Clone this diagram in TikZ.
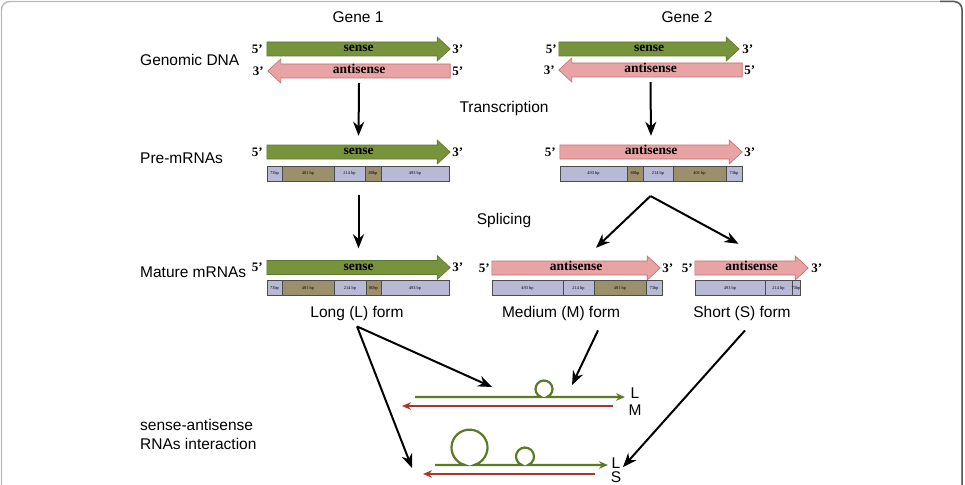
\documentclass[tikz,border=0pt]{standalone}
\usepackage{fontspec}
\setmainfont{Liberation Serif}
\setsansfont{Liberation Sans}
\usetikzlibrary{arrows.meta,backgrounds}
\pgfdeclarelayer{bottom}
\pgfsetlayers{bottom,background,main}
\definecolor{sgreen}{HTML}{77933C}
\definecolor{sgreenD}{HTML}{5E7830}
\definecolor{apink}{HTML}{E8A4A4}
\definecolor{apinkD}{HTML}{C46C6C}
\definecolor{lav}{HTML}{B8B9D4}
\definecolor{khaki}{HTML}{9C8F6C}
\definecolor{dgreen}{HTML}{5B7A25}
\definecolor{dred}{HTML}{A8382E}
\tikzset{
  lbl/.style={font=\sffamily\fontsize{15.5}{18}\selectfont, inner sep=0},
  lbll/.style={lbl, anchor=west},
  endlbl/.style={font=\bfseries\fontsize{13}{15}\selectfont, inner sep=0},
  band/.style={minimum height=24, inner sep=0, font=\bfseries\fontsize{13.5}{15}\selectfont, text height=7.5, text depth=2.5},
  seg/.style={draw=gray!60!black, line width=0.4, minimum height=15, inner sep=0, font=\fontsize{4.4}{5}\selectfont, fill=lav},
  kseg/.style={seg, fill=khaki, draw=black!70},
  arr/.style={-{Stealth[length=14,width=11]}, line width=2, black},
  duplex/.style={line width=2.2, -{Stealth[length=9,width=7.5]}},
}
% right-pointing block arrow behind node #1
\newcommand\RArrow[3]{\begin{scope}[on background layer]
\path[fill=#2,draw=#3,line width=0.6] ([yshift=7]#1.west) -- ([xshift=-13,yshift=7]#1.east) -- ([xshift=-13,yshift=12]#1.east) -- (#1.east) -- ([xshift=-13,yshift=-12]#1.east) -- ([xshift=-13,yshift=-7]#1.east) -- ([yshift=-7]#1.west) -- cycle;
\end{scope}}
% left-pointing block arrow behind node #1
\newcommand\LArrow[3]{\begin{scope}[on background layer]
\path[fill=#2,draw=#3,line width=0.6] ([yshift=7]#1.east) -- ([xshift=13,yshift=7]#1.west) -- ([xshift=13,yshift=12]#1.west) -- (#1.west) -- ([xshift=13,yshift=-12]#1.west) -- ([xshift=13,yshift=-7]#1.west) -- ([yshift=-7]#1.east) -- cycle;
\end{scope}}
% segment: name, x1, x2, y, style, text
\newcommand\seg[6]{\node[#5, minimum width={(#3-#2)*1pt}] (#1) at ({(#2+#3)/2},#4) {\makebox[0pt]{#6}};}
\begin{document}
\begin{tikzpicture}[x=1pt,y=-1pt]
\useasboundingbox (0,0) rectangle (965,484);
\begin{pgfonlayer}{bottom}
\fill[white] (0,0) rectangle (965,484);
\end{pgfonlayer}
% frame
\draw[gray!55, line width=1.4, rounded corners=8] (1.5,490) -- (1.5,1.5) -- (962,1.5) -- (962,490);
\draw[black!65, line width=1.5, rounded corners=8] (940,1.5) -- (962,1.5) -- (962,490);

% headings and row labels
\node[lbl] (gene1) at (358,17) {Gene 1};
\node[lbl] (gene2) at (687,17) {Gene 2};
\node[lbll] (gdna) at (140,60) {Genomic DNA};
\node[lbl] (trans) at (504,108) {Transcription};
\node[lbll] (pre) at (140,158) {Pre-mRNAs};
\node[lbl] (splic) at (504,220) {Splicing};
\node[lbll] (mat) at (140,272) {Mature mRNAs};
\node[lbll, align=left] (inter) at (140,434) {sense-antisense\\[1pt]RNAs interaction};

% ---- Genomic DNA
\node[band, minimum width=183] (g1s) at (358.5,49) {sense};
\RArrow{g1s}{sgreen}{sgreenD}
\node[band, minimum width=182] (g1a) at (359,71) {antisense};
\LArrow{g1a}{apink}{apinkD}
\node[band, minimum width=180] (g2s) at (649,49) {sense};
\RArrow{g2s}{sgreen}{sgreenD}
\node[band, minimum width=183] (g2a) at (650.5,70) {antisense};
\LArrow{g2a}{apink}{apinkD}
\node[endlbl, anchor=east] (g1s5) at ([xshift=-4]g1s.west) {5’};
\node[endlbl, anchor=west] (g1s3) at ([xshift=2]g1s.east) {3’};
\node[endlbl, anchor=east] (g1a3) at ([xshift=-4]g1a.west) {3’};
\node[endlbl, anchor=west] (g1a5) at ([xshift=2]g1a.east) {5’};
\node[endlbl, anchor=east] (g2s5) at ([xshift=-2]g2s.west) {5’};
\node[endlbl, anchor=west] (g2s3) at ([xshift=3]g2s.east) {3’};
\node[endlbl, anchor=east] (g2a3) at ([xshift=-4]g2a.west) {3’};
\node[endlbl, anchor=west] (g2a5) at ([xshift=2]g2a.east) {5’};

% ---- Pre-mRNAs
\node[band, minimum width=183] (p1) at (358.5,152) {sense};
\RArrow{p1}{sgreen}{sgreenD}
\node[endlbl, anchor=east] (p15) at ([xshift=-4]p1.west) {5’};
\node[endlbl, anchor=west] (p13) at ([xshift=2]p1.east) {3’};
\node[band, minimum width=182] (p2) at (651,152) {antisense};
\RArrow{p2}{apink}{apinkD}
\node[endlbl, anchor=east] (p25) at ([xshift=-4]p2.west) {5’};
\node[endlbl, anchor=west] (p23) at ([xshift=2]p2.east) {3’};
\seg{b1a}{267}{282}{173.5}{seg}{73bp}
\seg{b1b}{282}{334}{173.5}{kseg}{401 bp}
\seg{b1c}{334}{365}{173.5}{seg}{214 bp}
\seg{b1d}{365}{381}{173.5}{kseg}{80bp}
\seg{b1e}{381}{449}{173.5}{seg}{493 bp}
\seg{b2a}{560}{627}{173.5}{seg}{493 bp}
\seg{b2b}{627}{643}{173.5}{kseg}{80bp}
\seg{b2c}{643}{673}{173.5}{seg}{214 bp}
\seg{b2d}{673}{726}{173.5}{kseg}{401 bp}
\seg{b2e}{726}{742}{173.5}{seg}{73bp}

% ---- Mature mRNAs
\node[band, minimum width=183] (m1) at (358.5,267.5) {sense};
\RArrow{m1}{sgreen}{sgreenD}
\node[endlbl, anchor=east] (m15) at ([xshift=-4]m1.west) {5’};
\node[endlbl, anchor=west] (m13) at ([xshift=2]m1.east) {3’};
\node[band, minimum width=168] (mm) at (576,268) {antisense};
\RArrow{mm}{apink}{apinkD}
\node[endlbl, anchor=east] (mm5) at ([xshift=-2]mm.west) {5’};
\node[endlbl, anchor=west] (mm3) at ([xshift=2]mm.east) {3’};
\node[band, minimum width=113] (ms) at (751.5,268) {antisense};
\RArrow{ms}{apink}{apinkD}
\node[endlbl, anchor=east] (ms5) at ([xshift=-2]ms.west) {5’};
\node[endlbl, anchor=west] (ms3) at ([xshift=3]ms.east) {3’};
\seg{c1a}{267}{282}{288}{seg}{73bp}
\seg{c1b}{282}{334}{288}{kseg}{401 bp}
\seg{c1c}{334}{366}{288}{seg}{214 bp}
\seg{c1d}{366}{381}{288}{kseg}{80bp}
\seg{c1e}{381}{449}{288}{seg}{493 bp}
\seg{c2a}{492}{563}{288}{seg}{493 bp}
\seg{c2b}{563}{594}{288}{seg}{214 bp}
\seg{c2c}{594}{646}{288}{kseg}{401 bp}
\seg{c2d}{646}{662}{288}{seg}{73bp}
\seg{c3a}{695}{765}{288}{seg}{493 bp}
\seg{c3b}{765}{792}{288}{seg}{214 bp}
\seg{c3c}{792}{800}{288}{seg}{73bp}
\node[lbl] (lf) at (357,313) {Long (L) form};
\node[lbl] (mf) at (561,313) {Medium (M) form};
\node[lbl] (sf) at (742,313) {Short (S) form};

% ---- process arrows
\coordinate (sp1) at (358.5,195);
\coordinate (sp2) at (650.5,196);
\draw[arr, shorten >=4] (g1a.south) -- (p1.north);
\draw[arr, shorten >=4] (g2a.south) -- (p2.north);
\draw[arr, shorten >=7] (sp1) -- (m1.north);
\draw[arr] (sp2) -- ([xshift=20,yshift=8]mm.north);
\draw[arr] (sp2) -- ([xshift=-13,yshift=12]ms.north);

% ---- duplexes
\draw[duplex, dgreen] (415,397) -- (541.1,397) arc[start angle=110, end angle=430, radius=8.5] -- (625,397);
\draw[duplex, dred] (613,406) -- (402,406);
\draw[duplex, dgreen] (435,465) -- (464.84,465) arc[start angle=105, end angle=435, radius=18] -- (521.92,465) arc[start angle=110, end angle=430, radius=9] -- (608,465);
\draw[duplex, dred] (595,474) -- (423,474);
\node[lbl] (dL1) at (635,393) {L};
\node[lbl] (dM1) at (635,410) {M};
\node[lbl] (dL2) at (616,463) {L};
\node[lbl] (dS2) at (616,477) {S};
\coordinate (t1) at (492,387);
\coordinate (t2) at (412,468);
\coordinate (t3) at (572,385);
\coordinate (t4) at (623,467);
\draw[arr] ([yshift=-6]lf.south) -- (t1);
\draw[arr] ([yshift=-6]lf.south) -- (t2);
\draw[arr] ([xshift=37,yshift=-10]mf.south) -- (t3);
\draw[arr] ([xshift=3,yshift=-10]sf.south) -- (t4);
\end{tikzpicture}
\end{document}
